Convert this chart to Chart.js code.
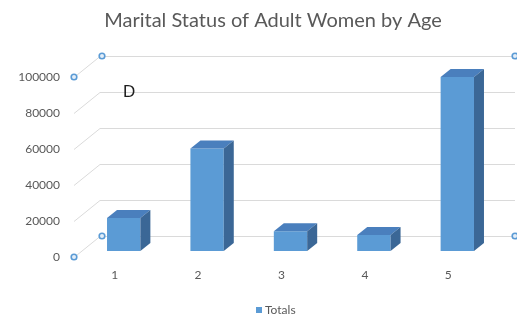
<!DOCTYPE html>
<html>
<head>
<meta charset="utf-8">
<script src="https://cdn.jsdelivr.net/npm/chart.js@4"></script>
<style>
  html, body { margin: 0; padding: 0; background: #fff; }
  #wrap { width: 517px; height: 320px; }
</style>
</head>
<body>
<div id="wrap"><canvas id="c" width="517" height="320"></canvas></div>
<script>
// ---- data ----
const categories = ['1', '2', '3', '4', '5'];
const totals = [18300, 56900, 11000, 8900, 96700];
const yTicks = [0, 20000, 40000, 60000, 80000, 100000];
const seriesName = 'Totals';
const chartTitle = 'Marital Status of Adult Women by Age';
const noteText = 'D';

// ---- 3D geometry (pixel offsets relative to the bar plane) ----
const DEPTH = { x: 10, y: -8 };        // extrusion of each column
const WALL_BACK = { x: 18, y: -15 };   // bar plane -> back wall
const WALL_FRONT = { x: -8, y: 6 };    // bar plane -> front edge of the side wall

const FRONT = '#5b9bd5';
const TOP = '#4a7fbd';
const SIDE = '#3b6796';
const GRID = '#dadada';
const TEXT = '#595959';

const PLOT = { left: 82, top: 71, bottom: 251 };
const PAD = { left: 10, right: 18, top: 71, bottom: 0 };
const TITLE_POS = { x: 273, y: 21 };
const LEGEND_POS = { x: 256, y: 310 };

const wall3d = {
  id: 'wall3d',
  beforeDatasetsDraw(chart) {
    const { ctx, chartArea: a, scales: { y } } = chart;
    ctx.save();
    ctx.strokeStyle = GRID;
    ctx.lineWidth = 1;
    yTicks.forEach(v => {
      const py = Math.round(y.getPixelForValue(v)) + 0.5;
      ctx.beginPath();
      ctx.moveTo(a.left + WALL_FRONT.x, py + WALL_FRONT.y);
      ctx.lineTo(a.left + WALL_BACK.x, py + WALL_BACK.y);
      ctx.lineTo(a.right + WALL_BACK.x - 2, py + WALL_BACK.y);
      ctx.stroke();
    });
    ctx.restore();
  },
  afterDatasetsDraw(chart) {
    const { ctx } = chart;
    const meta = chart.getDatasetMeta(0);
    ctx.save();
    meta.data.forEach(bar => {
      const { x, y, base, width } = bar.getProps(['x', 'y', 'base', 'width'], true);
      const l = x - width / 2, r = x + width / 2;
      // top face
      ctx.fillStyle = TOP;
      ctx.beginPath();
      ctx.moveTo(l, y);
      ctx.lineTo(l + DEPTH.x, y + DEPTH.y);
      ctx.lineTo(r + DEPTH.x, y + DEPTH.y);
      ctx.lineTo(r, y);
      ctx.closePath();
      ctx.fill();
      // side face
      ctx.fillStyle = SIDE;
      ctx.beginPath();
      ctx.moveTo(r, y);
      ctx.lineTo(r + DEPTH.x, y + DEPTH.y);
      ctx.lineTo(r + DEPTH.x, base + DEPTH.y);
      ctx.lineTo(r, base);
      ctx.closePath();
      ctx.fill();
    });
    ctx.restore();
  },
  afterDraw(chart) {
    const { ctx, chartArea: a, scales: { y } } = chart;
    const yMax = y.getPixelForValue(yTicks[yTicks.length - 1]);
    const y0 = y.getPixelForValue(yTicks[0]);
    const handles = [
      [a.left + WALL_FRONT.x, yMax + WALL_FRONT.y],
      [a.left + WALL_FRONT.x, y0 + WALL_FRONT.y],
      [a.left + WALL_BACK.x + 2, yMax + WALL_BACK.y],
      [a.left + WALL_BACK.x + 2, y0 + WALL_BACK.y],
      [a.right + WALL_BACK.x - 2, yMax + WALL_BACK.y],
      [a.right + WALL_BACK.x - 2, y0 + WALL_BACK.y]
    ];
    ctx.save();
    handles.forEach(([hx, hy]) => {
      ctx.beginPath();
      ctx.arc(hx, hy, 2.8, 0, Math.PI * 2);
      ctx.fillStyle = '#e4eef8';
      ctx.fill();
      ctx.lineWidth = 1.6;
      ctx.strokeStyle = FRONT;
      ctx.stroke();
    });

    // title
    ctx.fillStyle = TEXT;
    ctx.font = '20px Lato, sans-serif';
    ctx.textAlign = 'center';
    ctx.textBaseline = 'middle';
    ctx.fillText(chartTitle, TITLE_POS.x, TITLE_POS.y);

    // legend
    const ds = chart.data.datasets[0];
    ctx.fillStyle = ds.backgroundColor;
    ctx.fillRect(LEGEND_POS.x, LEGEND_POS.y - 3, 6, 6);
    ctx.fillStyle = TEXT;
    ctx.font = '12px Lato, sans-serif';
    ctx.textAlign = 'left';
    ctx.fillText(ds.label, LEGEND_POS.x + 9, LEGEND_POS.y);

    // free-floating note
    ctx.fillStyle = '#1e1e1e';
    ctx.font = '17px "Liberation Sans", Arial, sans-serif';
    ctx.textBaseline = 'alphabetic';
    ctx.fillText(noteText, a.left + 41, a.top + 26);
    ctx.restore();
  }
};

new Chart(document.getElementById('c'), {
  type: 'bar',
  data: {
    labels: categories,
    datasets: [{
      label: seriesName,
      data: totals,
      backgroundColor: FRONT,
      borderWidth: 0,
      barPercentage: 0.4,
      categoryPercentage: 1.0
    }]
  },
  options: {
    responsive: false,
    animation: false,
    devicePixelRatio: 1,
    layout: { padding: PAD },
    plugins: {
      title: { display: false },
      legend: { display: false },
      tooltip: { enabled: false }
    },
    scales: {
      x: {
        grid: { display: false, drawTicks: false },
        border: { display: false },
        ticks: {
          color: TEXT,
          font: { family: 'Lato', size: 12 },
          labelOffset: -9,
          padding: 17,
          autoSkip: false,
          maxRotation: 0
        },
        afterFit(scale) {
          scale.height = 320 - PAD.bottom - PLOT.bottom;
        }
      },
      y: {
        min: yTicks[0],
        max: yTicks[yTicks.length - 1],
        grid: { display: false, drawTicks: false },
        border: { display: false },
        afterBuildTicks(scale) {
          scale.ticks = yTicks.map(v => ({ value: v }));
        },
        ticks: {
          color: TEXT,
          font: { family: 'Lato', size: 12 },
          labelOffset: 6,
          padding: 22,
          callback: v => String(v)
        },
        afterFit(scale) {
          scale.width = PLOT.left - PAD.left;
        }
      }
    }
  },
  plugins: [wall3d]
});
</script>
</body>
</html>
